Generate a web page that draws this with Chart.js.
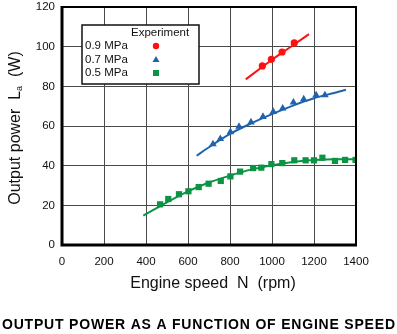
<!DOCTYPE html>
<html>
<head>
<meta charset="utf-8">
<script src="https://cdn.jsdelivr.net/npm/chart.js@4/dist/chart.umd.min.js"></script>
<style>
html,body{margin:0;padding:0;background:#fff;}
#wrap{width:397px;height:334px;position:relative;}
</style>
</head>
<body>
<div id="wrap"><canvas id="c" width="397" height="334"></canvas></div>
<script>
// ---- data ----
const xTicks = [0, 200, 400, 600, 800, 1000, 1200, 1400];
const yTicks = [0, 20, 40, 60, 80, 100, 120];
const seriesNames = ['0.9 MPa', '0.7 MPa', '0.5 MPa'];

const red09X = [954, 997, 1048, 1106];
const red09Y = [90.3, 93.6, 97.3, 101.9];
const red09LineX = [875, 950, 1000, 1050, 1100, 1176];
const red09LineY = [83.5, 89.5, 93.4, 97.1, 100.7, 106.3];

const blue07X = [719, 754, 802, 843, 900, 957, 1006, 1051, 1102, 1151, 1210, 1252];
const blue07Y = [50.9, 53.5, 57.0, 59.7, 61.9, 64.7, 67.2, 68.9, 71.9, 73.5, 75.6, 75.6];
const blue07LineX = [641, 700, 800, 900, 1000, 1100, 1200, 1300, 1352];
const blue07LineY = [45.0, 49.3, 56.0, 61.3, 66.0, 70.3, 74.0, 76.8, 78.3];

const green05X = [467, 506, 557, 602, 651, 698, 756, 802, 848, 910, 949, 997, 1049, 1106, 1160, 1200, 1240, 1300, 1348, 1398];
const green05Y = [20.5, 23.2, 25.6, 27.1, 29.2, 30.9, 32.3, 34.6, 37.0, 38.8, 39.0, 40.8, 41.3, 42.7, 42.7, 42.7, 44.0, 42.4, 42.9, 42.9];
const green05LineX = [387, 500, 600, 700, 800, 900, 1000, 1100, 1200, 1300, 1400];
const green05LineY = [14.8, 21.5, 27.0, 31.5, 35.0, 38.0, 40.2, 41.8, 42.8, 43.2, 43.2];

const xTitle = 'Engine speed  N  (rpm)';
const yTitleParts = ['Output power  L', 'a', '  (W)'];
const legendTitle = 'Experiment';
const caption = 'OUTPUT POWER AS A FUNCTION OF ENGINE SPEED';

// ---- styles ----
const RED = '#ff1010', BLUE = '#1f63ae', GREEN = '#0a9444';
const FONT = '"Liberation Sans", Arial, Helvetica, sans-serif';

const pts = (xs, ys) => xs.map((x, i) => ({x: x, y: ys[i]}));

const lineDs = (xs, ys, col) => ({
  data: pts(xs, ys), showLine: true, borderColor: col, borderWidth: 2,
  pointRadius: 0, tension: 0.4, cubicInterpolationMode: 'monotone', fill: false
});
const markDs = (xs, ys, col, style, r) => ({
  data: pts(xs, ys), showLine: false, backgroundColor: col, borderColor: col,
  borderWidth: 0, pointStyle: style, pointRadius: r
});

const colors = [RED, BLUE, GREEN];
const styles = ['circle', 'triangle', 'rect'];

function spacedText(ctx, text, cx, y, targetW) {
  const chars = text.split('');
  const widths = chars.map(c => ctx.measureText(c).width);
  const base = widths.reduce((s, w) => s + w, 0);
  const gap = (targetW - base) / (chars.length - 1);
  let x = cx - targetW / 2;
  ctx.textAlign = 'left';
  chars.forEach((c, i) => { ctx.fillText(c, x, y); x += widths[i] + gap; });
}

const decor = {
  id: 'decor',
  afterDatasetsDraw(chart) {
    const ctx = chart.ctx, a = chart.chartArea;
    ctx.save();
    // frame
    ctx.strokeStyle = '#000';
    ctx.lineWidth = 2;
    ctx.strokeRect(a.left, a.top, a.right - a.left, a.bottom - a.top);
    ctx.lineWidth = 3;
    ctx.beginPath();
    ctx.moveTo(a.left, a.top - 1); ctx.lineTo(a.left, a.bottom);
    ctx.lineTo(a.right + 1, a.bottom);
    ctx.stroke();

    // legend box
    const lx = 82, ly = 25, lw = 117, lh = 59;
    ctx.fillStyle = '#fff';
    ctx.fillRect(lx, ly, lw, lh);
    ctx.lineWidth = 1.5;
    ctx.strokeStyle = '#111';
    ctx.strokeRect(lx, ly, lw, lh);
    ctx.fillStyle = '#111';
    ctx.font = '11.5px ' + FONT;
    ctx.textBaseline = 'middle';
    ctx.textAlign = 'left';
    ctx.fillText(legendTitle, 131, 33);
    const rows = [46, 59.5, 73];
    seriesNames.forEach((n, i) => {
      ctx.fillStyle = '#111';
      ctx.fillText(n, 85, rows[i]);
      ctx.fillStyle = colors[i];
      const mx = 156, my = rows[i];
      ctx.beginPath();
      if (styles[i] === 'circle') { ctx.arc(mx, my, 3.2, 0, Math.PI * 2); }
      else if (styles[i] === 'triangle') { ctx.moveTo(mx, my - 3.5); ctx.lineTo(mx + 3.5, my + 2.5); ctx.lineTo(mx - 3.5, my + 2.5); ctx.closePath(); }
      else { ctx.rect(mx - 3, my - 3, 6, 6); }
      ctx.fill();
    });
    ctx.restore();
  },
  afterDraw(chart) {
    const ctx = chart.ctx;
    ctx.save();
    ctx.fillStyle = '#111';
    // x title
    ctx.font = '16px ' + FONT;
    ctx.textAlign = 'center';
    ctx.textBaseline = 'middle';
    ctx.fillText(xTitle, 213, 284);
    // y title with subscript
    ctx.translate(16, 128);
    ctx.rotate(-Math.PI / 2);
    const big = '16px ' + FONT, small = '9px ' + FONT;
    ctx.font = big; const w0 = ctx.measureText(yTitleParts[0]).width;
    ctx.font = small; const w1 = ctx.measureText(yTitleParts[1]).width;
    ctx.font = big; const w2 = ctx.measureText(yTitleParts[2]).width;
    let x = -(w0 + w1 + w2) / 2;
    ctx.textAlign = 'left';
    ctx.font = big; ctx.fillText(yTitleParts[0], x, 0); x += w0;
    ctx.font = small; ctx.fillText(yTitleParts[1], x, 4); x += w1;
    ctx.font = big; ctx.fillText(yTitleParts[2], x, 0);
    ctx.restore();
    // caption
    ctx.save();
    ctx.fillStyle = '#000';
    ctx.font = 'bold 14px ' + FONT;
    ctx.textBaseline = 'middle';
    spacedText(ctx, caption, 198.5, 325, 393);
    ctx.restore();
  }
};

new Chart(document.getElementById('c'), {
  type: 'scatter',
  data: {
    datasets: [
      lineDs(red09LineX, red09LineY, RED),
      lineDs(blue07LineX, blue07LineY, BLUE),
      lineDs(green05LineX, green05LineY, GREEN),
      markDs(red09X, red09Y, RED, 'circle', 3.6),
      markDs(blue07X, blue07Y, BLUE, 'triangle', 4.4),
      markDs(green05X, green05Y, GREEN, 'rect', 4.4)
    ]
  },
  options: {
    responsive: false,
    animation: false,
    layout: {padding: {left: 0, right: 41, top: 7, bottom: 0}},
    plugins: {legend: {display: false}, tooltip: {enabled: false}, title: {display: false}},
    scales: {
      x: {
        type: 'linear', min: xTicks[0], max: xTicks[xTicks.length - 1],
        afterBuildTicks: s => { s.ticks = xTicks.map(v => ({value: v})); },
        afterFit: s => { s.height = 89; s.paddingLeft = 0; s.paddingRight = 0; },
        grid: {color: '#4a4a4a', lineWidth: 1, drawTicks: false},
        border: {display: false},
        ticks: {color: '#111', font: {size: 11.5, family: FONT}, padding: 10, maxRotation: 0,
                callback: v => String(v)}
      },
      y: {
        type: 'linear', min: yTicks[0], max: yTicks[yTicks.length - 1],
        afterBuildTicks: s => { s.ticks = yTicks.map(v => ({value: v})); },
        afterFit: s => { s.width = 62; s.paddingTop = 0; s.paddingBottom = 0; },
        grid: {color: '#4a4a4a', lineWidth: 1, drawTicks: false},
        border: {display: false},
        ticks: {color: '#111', font: {size: 11.5, family: FONT}, padding: 7,
                callback: v => String(v)}
      }
    }
  },
  plugins: [decor]
});
</script>
</body>
</html>
